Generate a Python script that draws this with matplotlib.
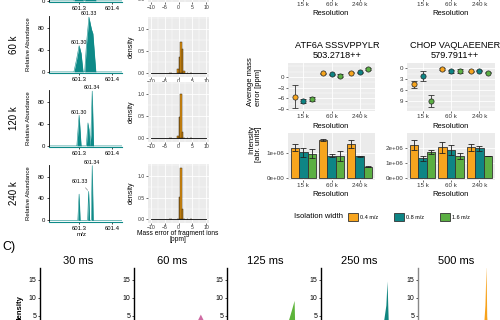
import matplotlib
matplotlib.use("Agg")
import matplotlib.pyplot as plt
from matplotlib.patches import Patch
from matplotlib.ticker import MultipleLocator
import numpy as np

plt.rcParams['font.family'] = ['Liberation Sans', 'DejaVu Sans']

# ---------------- data ----------------
resolutions = ['15 k', '60 k', '240 k']
iso_widths = ['0.4 m/z', '0.8 m/z', '1.6 m/z']
iso_colors = ['#F7A51E', '#0E8585', '#5BAF43']

# spectra (m/z, relative abundance), hand read
mz_60k = [601.20, 601.284, 601.292, 601.300, 601.306, 601.312, 601.317,
          601.323, 601.330, 601.334, 601.338, 601.342, 601.351, 601.44]
ab_60k = [0, 0, 22, 48, 34, 0, 0, 55, 100, 88, 77, 70, 0, 0]
mz_120k = [601.20, 601.293, 601.300, 601.306, 601.322, 601.327, 601.330,
           601.333, 601.336, 601.340, 601.344, 601.44]
ab_120k = [0, 0, 56, 0, 0, 42, 30, 0, 20, 100, 0, 0]
mz_240k = [601.20, 601.296, 601.300, 601.303, 601.326, 601.329, 601.332,
           601.337, 601.340, 601.343, 601.44]
ab_240k = [0, 0, 48, 0, 0, 53, 0, 0, 100, 0, 0]
# (m/z, abundance, label, label offset in points)
peak_labels = {
    '60k': [(601.300, 48, '601.30', (0, 0.5)), (601.330, 100, '601.33', (0, 0.5))],
    '120k': [(601.300, 56, '601.30', (0, 0.5)), (601.340, 100, '601.34', (0, 0.5))],
    '240k': [(601.329, 53, '601.33', (-6, 5)), (601.340, 100, '601.34', (0, 0.5))],
}

# fragment mass error histograms (bin centres, density)
hist_centres = [-3.3, -2.7, -0.3, 0.3, 0.9, 1.5, 2.1, 3.3, 4.5]
hist_60k = [0.01, 0.01, 0.10, 0.38, 0.70, 0.56, 0.06, 0.02, 0.01]
hist_120k = [0.01, 0.0, 0.05, 0.49, 1.00, 0.15, 0.02, 0.01, 0.0]
hist_240k = [0.0, 0.01, 0.02, 0.51, 1.17, 0.25, 0.02, 0.01, 0.0]
hist_bin = 0.6
hist_range = [-10, 10]

# average mass error (ppm) per isolation width x resolution
atf6_err = [[-5.5, 1.0, 1.2], [-6.7, 0.75, 1.3], [-6.2, 0.37, 2.15]]
atf6_err_sd = [[3.3, 0.2, 0.2], [0.6, 0.2, 0.2], [0.6, 0.5, 0.3]]
chop_err = [[4.4, 0.2, 0.85], [2.1, 0.9, 0.65], [9.0, 0.85, 1.2]]
chop_err_sd = [[0.9, 0.2, 0.2], [1.3, 0.4, 0.2], [1.6, 0.5, 0.2]]

# intensity
atf6_int = [[1.22e6, 1.53e6, 1.38e6], [1.03e6, 0.90e6, 0.87e6], [0.98e6, 0.89e6, 0.45e6]]
atf6_int_sd = [[0.15e6, 0.05e6, 0.16e6], [0.17e6, 0.05e6, 0.01e6], [0.18e6, 0.20e6, 0.02e6]]
chop_int = [[2.20e6, 2.03e6, 2.03e6], [1.30e6, 1.85e6, 1.96e6], [1.72e6, 1.46e6, 1.47e6]]
chop_int_sd = [[0.33e6, 0.36e6, 0.24e6], [0.16e6, 0.30e6, 0.15e6], [0.13e6, 0.17e6, 0.02e6]]

# panel C: density peaks per ion injection time
inj_times = ['30 ms', '60 ms', '125 ms', '250 ms', '500 ms']
inj_colors = [None, '#CF6BA3', '#5DB43A', '#108680', '#F7A21B']
dens_x = [None,
          [-0.5, 0.3, 0.75, 1.2, 1.65, 2.1, 2.9],
          [-1.5, -0.2, 0.4, 0.9, 1.33, 1.42, 1.6],
          [-0.8, 0.2, 0.6, 0.95, 1.15, 1.35, 1.7],
          [0.5, 1.1, 1.3, 1.49, 1.6, 1.8]]
dens_y = [None,
          [0, 2.0, 4.0, 5.5, 4.0, 2.0, 0],
          [0, 2.0, 4.0, 6.8, 9.3, 3.0, 0],
          [0, 2.0, 4.0, 8.0, 14.7, 3.5, 0],
          [0, 3, 8, 19, 5, 0]]

# ---------------- figure ----------------
W, H = 500, 320
fig = plt.figure(figsize=(W / 100, H / 100), dpi=100)


def add_box(x0, y0, x1, y1):
    return fig.add_axes([x0 / W, 1 - y1 / H, (x1 - x0) / W, (y1 - y0) / H])


def ftext(x, y, s, **kw):
    fig.text(x / W, 1 - y / H, s, **kw)


def gg_style(ax, labelsize=4.5):
    ax.set_facecolor('#EBEBEB')
    for s in ax.spines.values():
        s.set_visible(False)
    ax.grid(True, which='major', color='white', lw=0.6)
    ax.grid(True, which='minor', color='white', lw=0.3)
    ax.set_axisbelow(True)
    ax.tick_params(which='major', length=1.5, width=0.5, color='#333333',
                   labelsize=labelsize, pad=1, labelcolor='#333333')
    ax.tick_params(which='minor', length=0)


teal = '#0E8A88'


def spectrum(ax, mz, ab, labels=None):
    ax.fill_between(mz, ab, color=teal, lw=0)
    ax.plot(mz, ab, color=teal, lw=0.4)
    ax.set_xlim(601.208, 601.431)
    ax.set_ylim(-2, 102)
    ax.set_yticks([0, 40, 80])
    ax.set_xticks([601.3, 601.4], labels=['601.3', '601.4'])
    ax.xaxis.set_minor_locator(MultipleLocator(0.01))
    ax.spines[['top', 'right']].set_visible(False)
    ax.spines['bottom'].set_color(teal)
    ax.spines['left'].set_linewidth(0.6)
    ax.tick_params(which='major', length=1.5, width=0.5, labelsize=4.3, pad=1.5)
    ax.tick_params(which='minor', length=1, width=0.3, color=teal)
    if labels:
        for x, y, s, off in labels:
            arrow = dict(arrowstyle='-', lw=0.3, color='#444444', shrinkA=0.5,
                         shrinkB=1) if off[0] != 0 else None
            ax.annotate(s, xy=(x, y), xytext=off, textcoords='offset points',
                        ha='center', va='bottom', fontsize=3.8, arrowprops=arrow)


# left column: spectra
ax = add_box(49, -55, 122, 2)
spectrum(ax, mz_60k, ab_60k)
for (y0, y1, mz, ab, key, name) in [(16, 73, mz_60k, ab_60k, '60k', '60 k'),
                                    (90, 147, mz_120k, ab_120k, '120k', '120 k'),
                                    (164.5, 221.5, mz_240k, ab_240k, '240k', '240 k')]:
    ax = add_box(49, y0, 122, y1)
    spectrum(ax, mz, ab, peak_labels[key])
    mid = (y0 + y1) / 2
    ftext(14, mid, name, rotation=90, ha='center', va='center', fontsize=7)
    ftext(28, mid, 'Relative Abundance', rotation=90, ha='center', va='center', fontsize=4.3)
ftext(82, 235, 'm/z', ha='center', va='center', fontsize=4.5)


# middle column: histograms
def hist_panel(ax, heights):
    gg_style(ax, labelsize=3.7)
    ax.tick_params(which='major', pad=0.5)
    ax.bar(hist_centres, heights, width=hist_bin, color='#E8960E',
           edgecolor='#3A2A10', lw=0.35)
    ax.plot(hist_range, [0, 0], color='black', lw=0.6)
    ax.set_xlim(-11, 11)
    ax.set_ylim(-0.07, 1.27)
    ax.set_xticks([-10, -5, 0, 5, 10])
    ax.set_yticks([0, 0.5, 1.0], labels=['0.0', '0.5', '1.0'])
    ax.xaxis.set_minor_locator(MultipleLocator(2.5))
    ax.yaxis.set_minor_locator(MultipleLocator(0.25))


ax = add_box(148, -57, 209, 2)
hist_panel(ax, hist_60k)
for (y0, y1, h) in [(17, 76.5, hist_60k), (82, 141.5, hist_120k), (164, 222.5, hist_240k)]:
    ax = add_box(148, y0, 209, y1)
    hist_panel(ax, h)
    ftext(131, (y0 + y1) / 2, 'density', rotation=90, ha='center', va='center', fontsize=5)
ftext(178, 233.5, 'Mass error of fragment ions', ha='center', va='center', fontsize=4.8)
ftext(178, 239.5, '[ppm]', ha='center', va='center', fontsize=4.8)

# right column
cat_pos = np.arange(1, 4)
offsets = [-0.3, 0.0, 0.3]


def dot_panel(ax, means, sds, ylim, yticks):
    gg_style(ax)
    for i in range(3):
        ax.errorbar(cat_pos + offsets[i], means[i], yerr=sds[i], fmt='none',
                    ecolor='#333333', elinewidth=0.6, capsize=2.5, capthick=0.6, zorder=2)
        ax.scatter(cat_pos + offsets[i], means[i], s=14, color=iso_colors[i],
                   edgecolor='#222222', lw=0.5, zorder=3)
    ax.set_xlim(0.45, 3.55)
    ax.set_ylim(*ylim)
    ax.set_xticks(cat_pos, labels=resolutions)
    ax.set_yticks(yticks)
    ax.yaxis.set_minor_locator(MultipleLocator(1.5))


def bar_panel(ax, means, sds, ylim, yticks, yticklabels):
    gg_style(ax)
    for i in range(3):
        ax.bar(cat_pos + offsets[i], means[i], width=0.3, color=iso_colors[i],
               edgecolor='#333333', lw=0.6, zorder=2)
        ax.errorbar(cat_pos + offsets[i], means[i], yerr=sds[i], fmt='none',
                    ecolor='#222222', elinewidth=0.6, capsize=2.0, capthick=0.6, zorder=3)
    ax.set_xlim(0.45, 3.55)
    ax.set_ylim(*ylim)
    ax.set_xticks(cat_pos, labels=resolutions)
    ax.set_yticks(yticks, labels=yticklabels)


# top partial panels (only the x axis shows)
for x0, x1, cx in [(288, 375, 331), (407, 495, 451)]:
    ax = add_box(x0, -50, x1, -1)
    gg_style(ax)
    ax.set_xlim(0.45, 3.55)
    ax.set_xticks(cat_pos, labels=resolutions)
    ax.set_yticks([])
    ftext(cx, 13.5, 'Resolution', ha='center', va='center', fontsize=5.5)

ftext(337, 45, 'ATF6A SSSVPPYLR', ha='center', va='center', fontsize=6.6)
ftext(337, 55, '503.2718++', ha='center', va='center', fontsize=6.6)
ftext(455, 45, 'CHOP VAQLAEENER', ha='center', va='center', fontsize=6.6)
ftext(455, 55, '579.7911++', ha='center', va='center', fontsize=6.6)

ax = add_box(288, 63, 375, 111)
dot_panel(ax, atf6_err, atf6_err_sd, (-9.55, 3.9), [0, -3, -6, -9])
ax = add_box(407, 63, 495, 111)
dot_panel(ax, chop_err, chop_err_sd, (11.7, -1.4), [0, 3, 6, 9])
ftext(331, 126, 'Resolution', ha='center', va='center', fontsize=5.5)
ftext(451, 126, 'Resolution', ha='center', va='center', fontsize=5.5)
ftext(251, 82, 'Average mass', rotation=90, ha='center', va='center', fontsize=5.5)
ftext(258.5, 87, 'error [ppm]', rotation=90, ha='center', va='center', fontsize=5.5)

ax = add_box(288, 133, 375, 180)
bar_panel(ax, atf6_int, atf6_int_sd, (-0.08e6, 1.8e6), [0, 1e6], ['0e+00', '1e+06'])
ax = add_box(407, 133, 495, 180)
bar_panel(ax, chop_int, chop_int_sd, (-0.11e6, 2.96e6), [0, 1e6, 2e6],
          ['0e+00', '1e+06', '2e+06'])
ftext(331, 195, 'Resolution', ha='center', va='center', fontsize=5.5)
ftext(451, 195, 'Resolution', ha='center', va='center', fontsize=5.5)
ftext(251.5, 140, 'Intensity', rotation=90, ha='center', va='center', fontsize=5.5)
ftext(259, 144, '[abr. units]', rotation=90, ha='center', va='center', fontsize=5.5)

# legend
ftext(318, 217, 'Isolation width', ha='center', va='center', fontsize=5.5)
handles = [Patch(facecolor=c, edgecolor='#333333', lw=0.6) for c in iso_colors]
fig.legend(handles, iso_widths, loc='center left', bbox_to_anchor=(348 / W, 1 - 217 / H),
           ncol=3, frameon=False, fontsize=4, handlelength=1.8, handleheight=2.0,
           handletextpad=0.35, columnspacing=2.9, borderpad=0, borderaxespad=0)

# panel C
ftext(2, 247, 'C)', ha='left', va='center', fontsize=9)
axis_x = [40, 134, 227, 321, 418]
for k in range(5):
    ax = add_box(axis_x[k], 268, axis_x[k] + 77, 340)
    if dens_x[k] is not None:
        ax.fill_between(dens_x[k], dens_y[k], color=inj_colors[k], lw=0)
    ax.set_xlim(-10, 3)
    ax.set_ylim(-1.7, 18.3)
    ax.set_yticks([5, 10, 15])
    ax.set_xticks([])
    ax.set_facecolor('none')
    ax.spines[['top', 'right', 'bottom']].set_visible(False)
    ax.spines['left'].set_linewidth(1.0)
    ax.spines['left'].set_color('#888888' if k == 4 else 'black')
    ax.tick_params(length=1.5, width=0.5, labelsize=5, pad=1)
    ftext(axis_x[k] + 38.5, 261, inj_times[k], ha='center', va='center', fontsize=8)
ftext(20, 309, 'density', rotation=90, ha='center', va='center', fontsize=5.5,
      fontweight='bold')

fig.savefig('out.png', dpi=100)
